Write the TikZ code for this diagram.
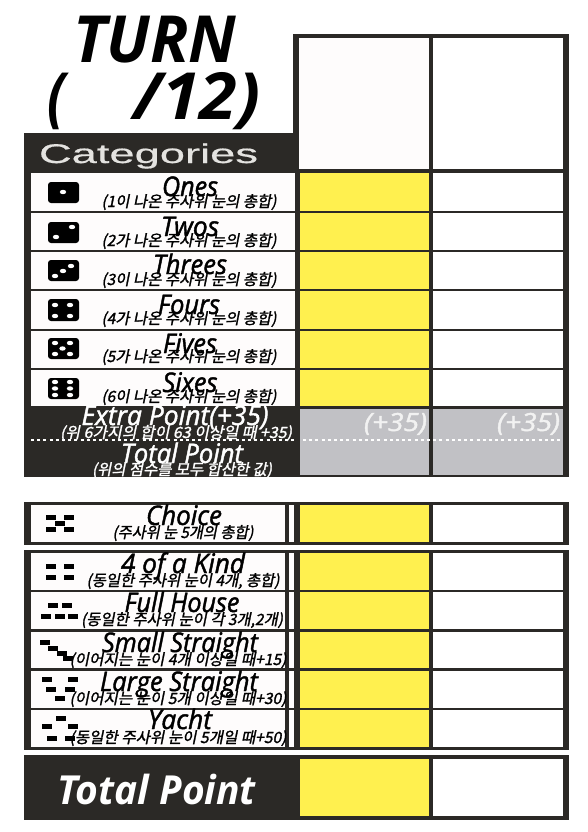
\documentclass[tikz,border=0pt]{standalone}
\usepackage{fontspec}
\usepackage{graphicx}
\newfontfamily\opn{Open Sans}
\newfontfamily\opm[ItalicFeatures={FakeBold=1.6}]{Open Sans}
\newfontfamily\krf[FakeSlant=0.2,FakeBold=1.5]{Noto Sans CJK KR}
\newfontfamily\catf[FakeStretch=1.45,FakeBold=0.6]{Liberation Sans}
\definecolor{ink}{HTML}{2B2926}
\definecolor{yel}{HTML}{FFF04F}
\definecolor{gry}{HTML}{C1C1C5}
\definecolor{paper}{HTML}{FEFCFC}
\definecolor{catc}{HTML}{E4E3E0}
\newcommand\fitx[2]{\resizebox{#1pt}{\height}{#2}}
\tikzset{
  x=1pt,y=-1pt,
  title/.style={anchor=base,inner sep=0pt,text=black,font=\opm\itshape\fontsize{27}{27}\selectfont},
  sub/.style={anchor=base,inner sep=0pt,text=black,font=\krf\fontsize{15.5}{16}\selectfont},
  whitetitle/.style={title,text=white},
  whitesub/.style={sub,text=white},
  big/.style={anchor=base,inner sep=0pt,text=black,font=\opn\bfseries\itshape\fontsize{65}{65}\selectfont},
  bonus/.style={anchor=base,inner sep=0pt,text=white!95!black,font=\opm\itshape\fontsize{25}{25}\selectfont},
  dotline/.style={draw=white,line width=1.6pt,dash pattern=on 3pt off 3.2pt},
  mini/.style={fill=black}
}
\newcommand\dierect[2]{\fill[black,rounded corners=3pt] (48,#1) rectangle (79,#2);}
\newcommand\pip[2]{\fill[white] (#1,#2) ellipse [x radius=3.2pt,y radius=2.2pt];}
\newcommand\mrect[2]{\fill[mini] ({#1-5},{#2-2.5}) rectangle ({#1+5},{#2+2.5});}
\newcommand\scorerow[2]{%
  \fill[paper] (31,#1) rectangle (295,#2);
  \fill[yel] (300,#1) rectangle (429,#2);
  \fill[white] (433,#1) rectangle (563,#2);}
\newcommand\scorerowB[2]{%
  \fill[paper] (31,#1) rectangle (285,#2);
  \fill[paper] (289,#1) rectangle (294,#2);
  \fill[yel] (300,#1) rectangle (429,#2);
  \fill[white] (433,#1) rectangle (563,#2);}
\begin{document}
\begin{tikzpicture}
\useasboundingbox (0,0) rectangle (588,832);
\fill[white] (0,0) rectangle (588,832);
% top score box
\fill[ink] (293,34) rectangle (569,173);
\fill[paper] (299,38) rectangle (429,169);
\fill[white] (433,38) rectangle (563,169);
% upper table
\fill[ink] (24,133) rectangle (299,173);
\fill[ink] (24,173) rectangle (569,477);
\scorerow{173}{211}
\scorerow{213}{250}
\scorerow{252}{289}
\scorerow{291}{329}
\scorerow{331}{368}
\scorerow{370}{406}
\fill[gry] (300,409) rectangle (429,475);
\fill[gry] (433,409) rectangle (563,475);
% choice
\fill[ink] (24,502) rectangle (569,545);
\scorerowB{505}{542}
% lower table
\fill[ink] (24,550) rectangle (569,750);
\scorerowB{553}{590}
\scorerowB{592}{629}
\scorerowB{632}{668}
\scorerowB{671}{708}
\scorerowB{710}{747}
% grand total
\fill[ink] (24,755) rectangle (569,820);
\fill[yel] (300,759) rectangle (429,816);
\fill[white] (433,759) rectangle (563,816);
% dice
\dierect{182}{203} \pip{63}{192}
\dierect{222}{243} \pip{72}{227} \pip{56}{237}
\dierect{260}{281} \pip{71}{266} \pip{63}{271} \pip{55}{276}
\dierect{299}{321} \pip{55}{305} \pip{70}{305} \pip{55}{316} \pip{70}{316}
\dierect{338}{359} \pip{55}{343} \pip{70}{343} \pip{62.5}{348.5} \pip{55}{354} \pip{70}{354}
\dierect{378}{399} \pip{55}{382} \pip{70}{382} \pip{55}{388.5} \pip{70}{388.5} \pip{55}{395} \pip{70}{395}
% mini patterns
\mrect{51}{517}\mrect{69}{517}\mrect{60}{523}\mrect{51}{529}\mrect{69}{529}
\mrect{51}{566}\mrect{69}{566}\mrect{51}{577}\mrect{69}{577}
\mrect{53}{605}\mrect{67}{605}\mrect{46}{616}\mrect{60}{616}\mrect{73}{616}
\mrect{45}{642}\mrect{53}{648}\mrect{62}{653}\mrect{68}{658}
\mrect{47}{679}\mrect{73}{679}\mrect{51}{689}\mrect{70}{689}\mrect{60}{698}
\mrect{61}{718}\mrect{47}{726}\mrect{73}{726}\mrect{52}{738}\mrect{70}{738}
% headings
\node[big] (turn) at (155,63) {\fitx{163}{TURN}};
\node[big] (paren) at (56,120) {\fitx{18}{(}};
\node[big] (frac) at (197,120) {\fitx{127}{/12)}};
\node[anchor=base,inner sep=0pt,text=catc,font=\catf\fontsize{27}{27}\selectfont] (cat) at (148.5,163) {\fitx{219}{Categories}};
% upper rows
\node[title] (t1) at (190,196) {\fitx{56}{Ones}};
\node[sub] (s1) at (189,207) {\fitx{175}{(1이 나온 주사위 눈의 총합)}};
\node[title] (t2) at (190,236) {\fitx{58}{Twos}};
\node[sub] (s2) at (189,246) {\fitx{175}{(2가 나온 주사위 눈의 총합)}};
\node[title] (t3) at (190,274) {\fitx{74}{Threes}};
\node[sub] (s3) at (189,285) {\fitx{175}{(3이 나온 주사위 눈의 총합)}};
\node[title] (t4) at (189,314) {\fitx{62}{Fours}};
\node[sub] (s4) at (189,324) {\fitx{175}{(4가 나온 주사위 눈의 총합)}};
\node[title] (t5) at (190,353) {\fitx{54}{Fives}};
\node[sub] (s5) at (189,362) {\fitx{175}{(5가 나온 주사위 눈의 총합)}};
\node[title] (t6) at (190,392) {\fitx{55}{Sixes}};
\node[sub] (s6) at (189,402) {\fitx{175}{(6이 나온 주사위 눈의 총합)}};
% bonus rows
\draw[dotline] (31,440) -- (295,440);
\draw[dotline] (303,440) -- (563,440);
\node[whitetitle] (t7) at (175,425) {\fitx{187}{Extra Point(+35)}};
\node[whitesub] (s7) at (176,438) {\fitx{232}{(위 6가지의 합이 63 이상일 때 +35)}};
\node[whitetitle] (t8) at (182,463) {\fitx{122}{Total Point}};
\node[whitesub] (s8) at (182,475) {\fitx{180}{(위의 점수를 모두 합산한 값)}};
\node[bonus] (b1) at (395.5,431) {\fitx{63}{(+35)}};
\node[bonus] (b2) at (528.5,431) {\fitx{63}{(+35)}};
% choice
\node[title] (t9) at (184,525) {\fitx{76}{Choice}};
\node[sub] (s9) at (183,538) {\fitx{141}{(주사위 눈 5개의 총합)}};
% lower rows
\node[title] (t10) at (183,573) {\fitx{124}{4 of a Kind}};
\node[sub] (s10) at (183,586) {\fitx{193}{(동일한 주사위 눈이 4개, 총합)}};
\node[title] (t11) at (182,612) {\fitx{115}{Full House}};
\node[sub] (s11) at (182,625) {\fitx{202}{(동일한 주사위 눈이 각 3개,2개)}};
\node[title] (t12) at (180,652) {\fitx{156}{Small Straight}};
\node[sub] (s12) at (178,665) {\fitx{217}{(이어지는 눈이 4개 이상일 때+15)}};
\node[title] (t13) at (179,691) {\fitx{158}{Large Straight}};
\node[sub] (s13) at (178,704) {\fitx{217}{(이어지는 눈이 5개 이상일 때+30)}};
\node[title] (t14) at (180,729) {\fitx{64}{Yacht}};
\node[sub] (s14) at (178,743) {\fitx{217}{(동일한 주사위 눈이 5개일 때+50)}};
% grand total label
\node[anchor=base,inner sep=0pt,text=white,font=\opn\bfseries\itshape\fontsize{40}{40}\selectfont] (t15) at (157,804) {\fitx{198}{Total Point}};
\end{tikzpicture}
\end{document}
